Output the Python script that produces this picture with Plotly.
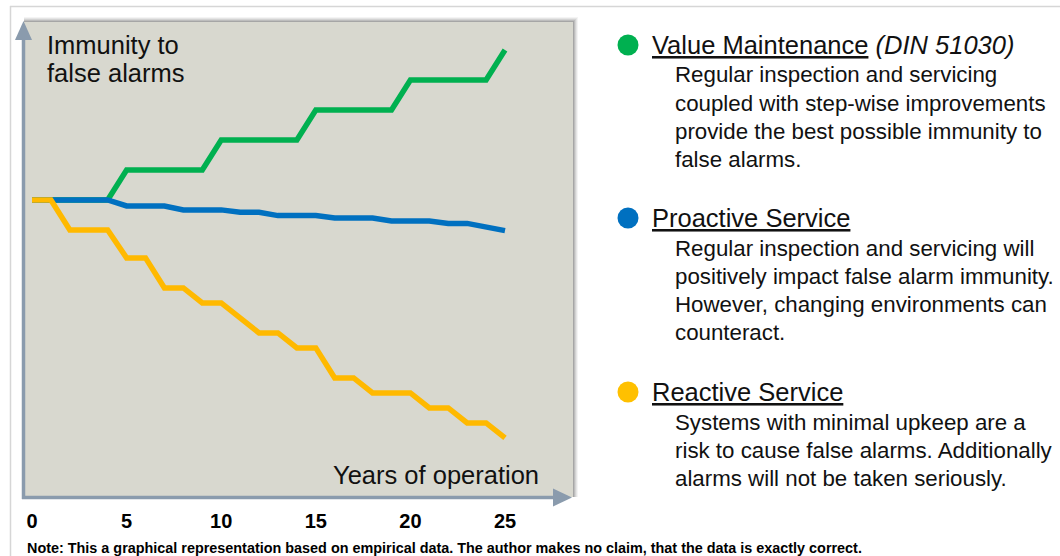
import plotly.graph_objects as go

# ---------------- data ----------------
years_green = [0, 4, 5, 9, 10, 14, 15, 19, 20, 24, 25]
value_maintenance = [100, 100, 110, 110, 120, 120, 130, 130, 140, 140, 150]

years_blue = [0, 4, 5, 7, 8, 10, 11, 12, 13, 15, 16, 18, 19, 21, 22, 23, 25]
proactive_service = [100, 100, 98, 98, 96.7, 96.7, 95.9, 95.9, 94.8, 94.8, 94, 94, 93, 93, 92.2, 92.2, 89.8]

years_yellow = [0, 1, 2, 4, 5, 6, 7, 8, 9, 10, 12, 13, 14, 15, 16, 17, 18, 20, 21, 22, 23, 24, 25]
reactive_service = [100, 100, 90, 90, 80.7, 80.7, 70.7, 70.7, 65.7, 65.7, 55.7, 55.7, 50.7, 50.7,
                    40.7, 40.7, 35.7, 35.7, 30.7, 30.7, 25.7, 25.7, 20.7]

tick_years = [0, 5, 10, 15, 20, 25]

series_names = ["Value Maintenance", "Proactive Service", "Reactive Service"]
series_subtitle = ["(DIN 51030)", "", ""]
series_text = [
    ["Regular inspection and servicing", "coupled with step-wise improvements",
     "provide the best possible immunity to", "false alarms."],
    ["Regular inspection and servicing will", "positively impact false alarm immunity.",
     "However, changing environments can", "counteract."],
    ["Systems with minimal upkeep are a", "risk to cause false alarms. Additionally",
     "alarms will not be taken seriously."],
]
y_title_lines = ["Immunity to", "false alarms"]
x_title = "Years of operation"
note = ("Note: This a graphical representation based on empirical data. "
        "The author makes no claim, that the data is exactly correct.")

# ---------------- styling ----------------
W, H = 1060, 556
L, R, T, B = 24, 1060 - 573, 22, 556 - 497
PW, PH = W - L - R, H - T - B
GREEN, BLUE, YELLOW = "#00B050", "#0070C0", "#FFB900"
BULLET = [GREEN, BLUE, "#FFC000"]
ARROW = "#8A9BAD"
BG = "#D8D8CF"
FONT = "Liberation Sans, Arial, sans-serif"
TXT = "#111111"


def xp(px):  # pixel x -> paper
    return (px - L) / PW


def yp(py):  # pixel y -> paper
    return (H - B - py) / PH


fig = go.Figure()
for xs, ys, c, n in [(years_green, value_maintenance, GREEN, series_names[0]),
                     (years_blue, proactive_service, BLUE, series_names[1]),
                     (years_yellow, reactive_service, YELLOW, series_names[2])]:
    fig.add_trace(go.Scatter(x=xs, y=ys, mode="lines", name=n,
                             line=dict(color=c, width=5.5), showlegend=False,
                             hoverinfo="skip"))

shapes = []
# outer light frame
shapes.append(dict(type="line", xref="paper", yref="paper", x0=xp(10), x1=xp(1062), y0=yp(6.5), y1=yp(6.5),
                   line=dict(color="#D6D6D6", width=1.5), layer="below"))
shapes.append(dict(type="line", xref="paper", yref="paper", x0=xp(10.5), x1=xp(10.5), y0=yp(6), y1=yp(560),
                   line=dict(color="#D6D6D6", width=1.5), layer="below"))
# shadow
for d, a in [(5, 0.06), (4, 0.08), (3, 0.10), (2, 0.14), (1, 0.18)]:
    shapes.append(dict(type="rect", xref="paper", yref="paper", x0=xp(24), x1=xp(573 + d),
                       y0=yp(497), y1=yp(22 - d), line=dict(width=0),
                       fillcolor=f"rgba(60,60,60,{a})", layer="below"))
# gray plot area
shapes.append(dict(type="rect", xref="paper", yref="paper", x0=0, x1=1, y0=0, y1=1,
                   line=dict(width=0), fillcolor=BG, layer="below"))
# axis arrows
shapes.append(dict(type="line", xref="paper", yref="paper", x0=xp(23.5), x1=xp(23.5), y0=yp(499), y1=yp(38),
                   line=dict(color=ARROW, width=3.5)))
shapes.append(dict(type="path", xref="paper", yref="paper",
                   path=f"M {xp(15)},{yp(40)} L {xp(23.5)},{yp(21)} L {xp(32)},{yp(40)} Z",
                   fillcolor=ARROW, line=dict(width=0)))
shapes.append(dict(type="line", xref="paper", yref="paper", x0=xp(22), x1=xp(556), y0=yp(497.5), y1=yp(497.5),
                   line=dict(color=ARROW, width=3.5)))
shapes.append(dict(type="path", xref="paper", yref="paper",
                   path=f"M {xp(553)},{yp(488.5)} L {xp(572)},{yp(497.5)} L {xp(553)},{yp(506.5)} Z",
                   fillcolor=ARROW, line=dict(width=0)))

# legend bullets
bullet_y = [45, 218, 392]
for c, by in zip(BULLET, bullet_y):
    shapes.append(dict(type="circle", xref="paper", yref="paper", x0=xp(617.5), x1=xp(638.5),
                       y0=yp(by + 10.5), y1=yp(by - 10.5), fillcolor=c, line=dict(width=0)))

annotations = []
for k, t in enumerate(y_title_lines):
    annotations.append(dict(xref="paper", yref="paper", x=xp(45), y=yp(45 + 28 * k), xanchor="left",
                            yanchor="middle", text=t, showarrow=False,
                            font=dict(family=FONT, size=25.5, color=TXT)))
annotations.append(dict(xref="paper", yref="paper", x=xp(541), y=yp(475), xanchor="right", yanchor="middle",
                        text=x_title, showarrow=False,
                        font=dict(family=FONT, size=25.5, color=TXT)))
annotations.append(dict(xref="paper", yref="paper", x=xp(25), y=yp(548), xanchor="left", yanchor="middle",
                        text=f"<b>{note}</b>", showarrow=False,
                        font=dict(family=FONT, size=14.4, color="#000000")))

for i, by in enumerate(bullet_y):
    head = f"<u>{series_names[i]}</u>"
    if series_subtitle[i]:
        head += f" <i>{series_subtitle[i]}</i>"
    annotations.append(dict(xref="paper", yref="paper", x=xp(650), y=yp(by), xanchor="left", yanchor="middle",
                            text=head, showarrow=False,
                            font=dict(family=FONT, size=25.5, color=TXT)))
    for k, line in enumerate(series_text[i]):
        annotations.append(dict(xref="paper", yref="paper", x=xp(673), y=yp(by + 30 + 28.3 * k),
                                xanchor="left", yanchor="middle", text=line, showarrow=False,
                                font=dict(family=FONT, size=22.3, color=TXT)))

fig.update_layout(
    width=W, height=H,
    margin=dict(l=L, r=R, t=T, b=B, pad=0),
    paper_bgcolor="white", plot_bgcolor="rgba(0,0,0,0)",
    shapes=shapes, annotations=annotations,
    xaxis=dict(range=[(24 - 32) / 18.92, (573 - 32) / 18.92], tickvals=tick_years,
               showgrid=False, zeroline=False, showline=False, ticks="",
               tickfont=dict(family=FONT, size=20, color="#000000", weight="bold"),
               ticklabelstandoff=10, fixedrange=True),
    yaxis=dict(range=[1, 159.33], showgrid=False, zeroline=False, showline=False,
               showticklabels=False, ticks="", fixedrange=True),
)

# remove the default 8px page margin so the 1060x556 figure fills the window exactly
fig.write_html("out.html", config={"displayModeBar": False},
               post_script="document.body.style.margin='0px';document.body.style.overflow='hidden';")
